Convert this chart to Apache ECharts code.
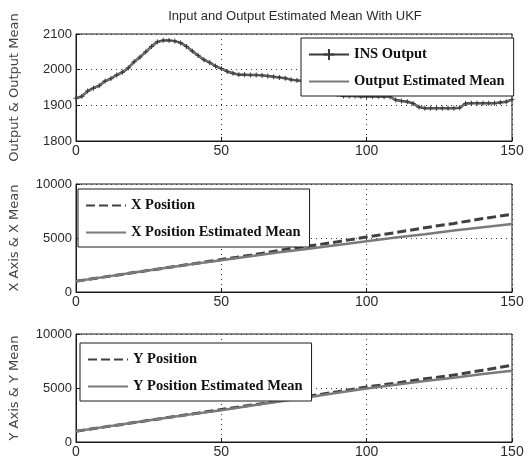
<!DOCTYPE html>
<html>
<head>
<meta charset="utf-8">
<script src="https://cdn.jsdelivr.net/npm/echarts@6/dist/echarts.min.js"></script>
<style>html,body{margin:0;padding:0;background:#fff}#c{width:528px;height:460px}</style>
</head>
<body>
<div id="c"></div>
<script>
// ---- data ----
const title = 'Input and Output Estimated Mean With UKF';
const yNames = ['Output & Output Mean', 'X Axis & X Mean', 'Y Axis & Y Mean'];
const xTicks = [0, 50, 100, 150];

const tOut = [0,2,4,6,8,10,12,14,16,18,20,22,24,26,28,30,32,34,36,38,40,42,44,46,48,50,52,54,56,58,60,62,64,66,68,70,72,74,76,78,80,82,84,86,88,90,92,94,96,98,100,102,104,106,108,110,112,114,116,118,120,122,124,126,128,130,132,134,136,138,140,142,144,146,148,150];
const insOutput = [1920,1925,1940,1948,1955,1968,1975,1985,1993,2005,2022,2035,2050,2065,2078,2082,2082,2080,2075,2065,2052,2040,2028,2020,2010,2003,1995,1990,1986,1986,1985,1985,1984,1982,1980,1978,1976,1972,1970,1968,1966,1962,1958,1950,1940,1930,1926,1926,1926,1925,1925,1925,1925,1924,1924,1915,1912,1910,1905,1895,1892,1892,1892,1892,1892,1892,1893,1905,1906,1906,1906,1906,1906,1908,1910,1916];
const outputMean = [1921,1926,1939,1947,1956,1967,1976,1984,1994,2006,2021,2036,2050,2064,2077,2081,2081,2079,2074,2064,2051,2040,2029,2020,2011,2003,1996,1990,1987,1986,1985,1985,1984,1982,1980,1978,1975,1972,1970,1968,1965,1962,1957,1950,1940,1931,1927,1926,1926,1925,1925,1925,1925,1924,1923,1915,1912,1909,1904,1896,1893,1892,1892,1892,1892,1892,1894,1904,1906,1906,1906,1906,1906,1908,1910,1915];

const tPos = [0,10,20,30,40,50,60,70,80,90,100,110,120,130,140,150];
const xPosition = [1000,1400,1800,2200,2600,3000,3400,3850,4250,4650,5100,5500,5950,6350,6800,7200];
const xPosMean  = [1000,1400,1800,2200,2580,2950,3320,3680,4000,4350,4700,5050,5350,5700,6000,6300];
const yPosition = [1000,1400,1800,2200,2600,3000,3400,3800,4250,4650,5100,5450,5850,6200,6650,7100];
const yPosMean  = [1000,1400,1800,2200,2580,2950,3350,3750,4150,4550,4950,5300,5650,5950,6300,6600];

const legend1 = ['INS Output', 'Output Estimated Mean'];
const legend2 = ['X Position', 'X Position Estimated Mean'];
const legend3 = ['Y Position', 'Y Position Estimated Mean'];

// ---- helpers ----
const pairs = (xs, ys) => xs.map((x, i) => [x, ys[i]]);
const txt = '#2a2a2a';
const grids = [
  {left: 71, right: 16, top: 34, height: 107},
  {left: 71, right: 16, top: 184, height: 108},
  {left: 71, right: 16, top: 334, height: 108}
].map(g => Object.assign(g, {show: true, borderColor: '#1a1a1a', borderWidth: 1, backgroundColor: '#fff'}));

function xAxis(i) {
  return {
    type: 'value', gridIndex: i, min: 0, max: 150, interval: 50,
    axisLine: {show: true, onZero: false, lineStyle: {color: '#1a1a1a', width: 1}},
    axisTick: {show: true, inside: true, length: 4, lineStyle: {color: '#1a1a1a'}},
    axisLabel: {color: txt, fontFamily: 'Liberation Sans', fontSize: 14, margin: 3,
      formatter: v => xTicks.includes(v) ? String(v) : ''},
    splitLine: {show: true, lineStyle: {color: '#333', type: [1, 4], width: 1}}
  };
}
function yAxis(i, min, max, interval) {
  return {
    type: 'value', gridIndex: i, min: min, max: max, interval: interval,
    name: yNames[i], nameLocation: 'middle', nameGap: 55,
    nameTextStyle: {color: '#444', fontFamily: 'DejaVu Sans', fontSize: 13},
    axisLine: {show: true, lineStyle: {color: '#1a1a1a', width: 1}},
    axisTick: {show: true, inside: true, length: 4, lineStyle: {color: '#1a1a1a'}},
    axisLabel: {color: txt, fontFamily: 'Liberation Sans', fontSize: 13, margin: 4,
      formatter: v => String(v)},
    splitLine: {show: true, lineStyle: {color: '#333', type: [1, 4], width: 1}}
  };
}
function legend(names, left, top, keepFirstSymbol) {
  return {
    data: names.map((n, k) => (k === 0 && keepFirstSymbol) ? {name: n} : {name: n, itemStyle: {opacity: 0}}),
    orient: 'vertical', left: left, top: top,
    backgroundColor: '#fff', borderColor: '#1a1a1a', borderWidth: 1, borderRadius: 0,
    padding: [9, 9, 7, 7], itemGap: 12, itemWidth: 40, itemHeight: 14,
    textStyle: {fontFamily: 'Liberation Serif', fontWeight: 'bold', fontSize: 14.5, color: '#111'},
    selectedMode: false
  };
}

const plus = 'path://M0,5L10,5M5,0L5,10';

const option = {
  animation: false,
  backgroundColor: '#fff',
  title: {text: title, left: 290, textAlign: 'center', top: 5,
    textStyle: {fontFamily: 'Liberation Sans', fontSize: 13, fontWeight: 'normal', color: txt}},
  grid: grids,
  xAxis: [xAxis(0), xAxis(1), xAxis(2)],
  yAxis: [yAxis(0, 1800, 2100, 100), yAxis(1, 0, 10000, 5000), yAxis(2, 0, 10000, 5000)],
  legend: [legend(legend1, 301, 38, true), legend(legend2, 78, 189, false), legend(legend3, 80, 343, false)],
  series: [
    {name: legend1[0], type: 'line', xAxisIndex: 0, yAxisIndex: 0, data: pairs(tOut, insOutput),
      symbol: plus, symbolSize: 5, showSymbol: true,
      itemStyle: {color: '#3a3a3a', borderColor: '#3a3a3a', borderWidth: 1},
      lineStyle: {color: '#3a3a3a', width: 2.5}},
    {name: legend1[1], type: 'line', xAxisIndex: 0, yAxisIndex: 0, data: pairs(tOut, outputMean),
      symbol: 'none', itemStyle: {color: '#7a7a7a'}, lineStyle: {color: '#7a7a7a', width: 1.5}},
    {name: legend2[0], type: 'line', xAxisIndex: 1, yAxisIndex: 1, data: pairs(tPos, xPosition),
      symbol: 'none', itemStyle: {color: '#404040'}, lineStyle: {color: '#404040', width: 3, type: [9, 4]}},
    {name: legend2[1], type: 'line', xAxisIndex: 1, yAxisIndex: 1, data: pairs(tPos, xPosMean),
      symbol: 'none', itemStyle: {color: '#7a7a7a'}, lineStyle: {color: '#7a7a7a', width: 2.5}},
    {name: legend3[0], type: 'line', xAxisIndex: 2, yAxisIndex: 2, data: pairs(tPos, yPosition),
      symbol: 'none', itemStyle: {color: '#404040'}, lineStyle: {color: '#404040', width: 3, type: [9, 4]}},
    {name: legend3[1], type: 'line', xAxisIndex: 2, yAxisIndex: 2, data: pairs(tPos, yPosMean),
      symbol: 'none', itemStyle: {color: '#7a7a7a'}, lineStyle: {color: '#7a7a7a', width: 2.5}}
  ]
};
echarts.init(document.getElementById('c'), null, {renderer: 'canvas'}).setOption(option);
</script>
</body>
</html>
